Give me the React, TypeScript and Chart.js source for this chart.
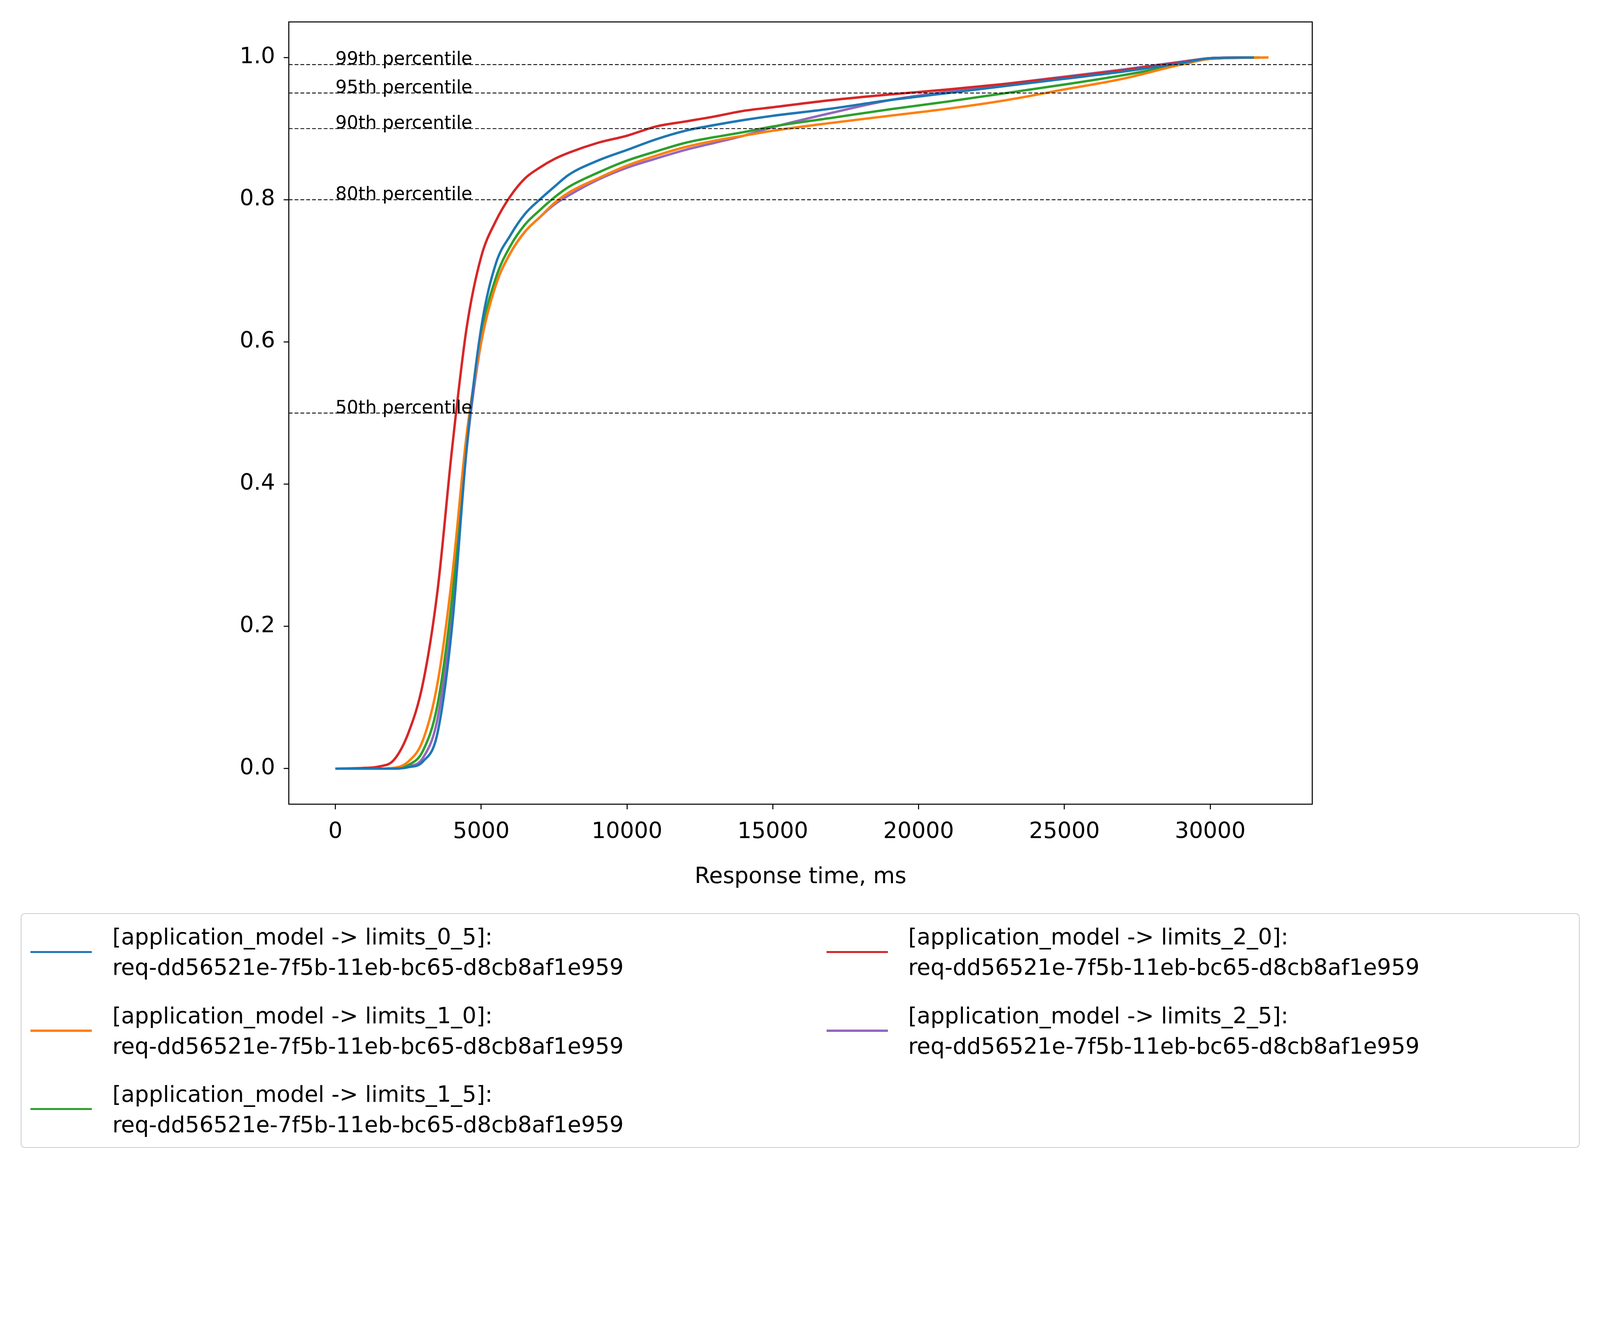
import { useEffect, useRef } from "react"
import { Chart, registerables } from "chart.js"

Chart.register(...registerables)

const xs = [0, 1000, 1500, 2000, 2500, 3000, 3500, 4000, 4500, 5000, 5500, 6000, 6500, 7000, 7500, 8000, 9000, 10000, 11000, 12000, 13000, 14000, 15000, 17000, 19000, 21000, 23000, 25000, 27000, 29000, 30000]

const blue = [0, 0, 0, 0, 0.002, 0.01, 0.05, 0.2, 0.45, 0.62, 0.71, 0.75, 0.78, 0.8, 0.818, 0.835, 0.855, 0.87, 0.885, 0.897, 0.905, 0.912, 0.918, 0.928, 0.94, 0.95, 0.96, 0.97, 0.98, 0.992, 0.999]
const orange = [0, 0, 0, 0.001, 0.01, 0.04, 0.12, 0.27, 0.47, 0.6, 0.68, 0.725, 0.755, 0.775, 0.795, 0.81, 0.83, 0.848, 0.862, 0.874, 0.883, 0.89, 0.897, 0.908, 0.918, 0.928, 0.94, 0.955, 0.97, 0.99, 0.998]
const green = [0, 0, 0, 0, 0.005, 0.025, 0.09, 0.24, 0.46, 0.61, 0.69, 0.735, 0.765, 0.785, 0.803, 0.818, 0.838, 0.855, 0.868, 0.88, 0.888, 0.895, 0.903, 0.915, 0.927, 0.938, 0.95, 0.962, 0.975, 0.99, 0.998]
const red = [0, 0.001, 0.003, 0.012, 0.05, 0.12, 0.25, 0.45, 0.62, 0.72, 0.77, 0.805, 0.83, 0.845, 0.857, 0.866, 0.88, 0.89, 0.903, 0.91, 0.917, 0.925, 0.93, 0.94, 0.948, 0.955, 0.963, 0.972, 0.982, 0.993, 0.999]
const purple = [0, 0, 0, 0, 0.003, 0.015, 0.07, 0.22, 0.45, 0.6, 0.68, 0.725, 0.755, 0.775, 0.793, 0.806, 0.828, 0.845, 0.858, 0.87, 0.88, 0.89, 0.902, 0.922, 0.94, 0.952, 0.963, 0.973, 0.983, 0.994, 0.999]

const seriesNames = ["limits_0_5", "limits_1_0", "limits_1_5", "limits_2_0", "limits_2_5"]
const seriesValues = [blue, orange, green, red, purple]
const seriesEndX = [31500, 32000, 31700, 31300, 31500]
const colors = ["#1f77b4", "#ff7f0e", "#2ca02c", "#d62728", "#9467bd"]
const requestId = "req-dd56521e-7f5b-11eb-bc65-d8cb8af1e959"

const percentiles = [0.5, 0.8, 0.9, 0.95, 0.99]
const percentileLabels = ["50th percentile", "80th percentile", "90th percentile", "95th percentile", "99th percentile"]

const font = "'DejaVu Sans', sans-serif"
// overall scale so the layout fits the photographed page
const S = 0.877

const extras = {
  id: "extras",
  afterDatasetsDraw(chart: any) {
    const { ctx, chartArea, scales } = chart
    ctx.save()
    ctx.strokeStyle = "#000"
    ctx.lineWidth = 2.5 * S
    ctx.setLineDash([11 * S, 6 * S])
    ctx.fillStyle = "#000"
    ctx.font = `${Math.round(53 * S)}px ${font}`
    ctx.textBaseline = "alphabetic"
    percentiles.forEach((p, i) => {
      const y = scales.y.getPixelForValue(p)
      ctx.beginPath()
      ctx.moveTo(chartArea.left, y)
      ctx.lineTo(chartArea.right, y)
      ctx.stroke()
      ctx.fillText(percentileLabels[i], scales.x.getPixelForValue(0), y)
    })
    ctx.setLineDash([])
    ctx.lineWidth = 3 * S
    ctx.strokeRect(chartArea.left, chartArea.top, chartArea.right - chartArea.left, chartArea.bottom - chartArea.top)
    ctx.restore()
  },
}

function App() {
  const chartRef = useRef<HTMLCanvasElement>(null)

  useEffect(() => {
    if (!chartRef.current) return
    const fs = Math.round(65 * S)
    const chart = new Chart(chartRef.current, {
      type: "line",
      data: {
        datasets: seriesValues.map((vals, i) => ({
          label: seriesNames[i],
          data: [...xs.map((x, j) => ({ x, y: vals[j] })), { x: seriesEndX[i], y: 1 }],
          borderColor: colors[i],
          borderWidth: 7 * S,
          pointRadius: 0,
          tension: 0.3,
          cubicInterpolationMode: "monotone" as const,
        })),
      },
      options: {
        responsive: false,
        animation: false,
        layout: { padding: { top: 57 * S, right: 816 * S, left: 0, bottom: 0 } },
        plugins: { legend: { display: false }, tooltip: { enabled: false } },
        scales: {
          x: {
            type: "linear",
            min: -1600,
            max: 33500,
            afterBuildTicks: (s: any) => {
              s.ticks = [0, 5000, 10000, 15000, 20000, 25000, 30000].map((v) => ({ value: v }))
            },
            ticks: { font: { family: font, size: fs }, color: "#000", padding: 28 * S, maxRotation: 0, callback: (v: any) => String(v) },
            grid: { drawOnChartArea: false, tickLength: 15 * S, tickWidth: 3 * S, tickColor: "#000" },
            border: { display: false },
            title: { display: true, text: "Response time, ms", font: { family: font, size: fs }, color: "#000", padding: { top: 0, bottom: 0 } },
            afterFit: (s: any) => { s.height = 252 * S },
          },
          y: {
            min: -0.05,
            max: 1.05,
            afterBuildTicks: (s: any) => {
              s.ticks = [0, 0.2, 0.4, 0.6, 0.8, 1.0].map((v) => ({ value: v }))
            },
            ticks: { font: { family: font, size: fs }, color: "#000", padding: 25 * S, callback: (v: any) => Number(v).toFixed(1) },
            grid: { drawOnChartArea: false, tickLength: 15 * S, tickWidth: 3 * S, tickColor: "#000" },
            border: { display: false },
            afterFit: (s: any) => { s.width = 843 * S },
          },
        },
      },
      plugins: [extras],
    })
    return () => chart.destroy()
  }, [])

  const rowCenters = [2779, 3009, 3238]
  return (
    <div style={{ position: "absolute", left: 0, top: 0, width: 4647, height: 3395, background: "#fff", fontFamily: font }}>
      <canvas ref={chartRef} width={Math.round(4647 * S)} height={Math.round(2600 * S)} style={{ position: "absolute", left: 0, top: 0 }} />
      <div style={{ position: "absolute", left: 60 * S, top: 2666 * S, width: 4551 * S, height: 685 * S, border: `${3 * S}px solid #ccc`, borderRadius: 12 * S, boxSizing: "border-box" }} />
      {seriesNames.map((name, i) => {
        const col = i < 3 ? 0 : 1
        const row = i < 3 ? i : i - 3
        const hx = col === 0 ? 89 : 2413
        const tx = col === 0 ? 328 : 2651
        const cy = rowCenters[row]
        return (
          <div key={name}>
            <div style={{ position: "absolute", left: hx * S, top: (cy - 3) * S, width: 179 * S, height: 6 * S, background: colors[i] }} />
            <div style={{ position: "absolute", left: tx * S, top: (cy - 89) * S, fontSize: 65 * S, lineHeight: `${89 * S}px`, color: "#000", whiteSpace: "nowrap" }}>
              [application_model -&gt; {name}]:<br />
              {requestId}
            </div>
          </div>
        )
      })}
    </div>
  )
}

export default App
